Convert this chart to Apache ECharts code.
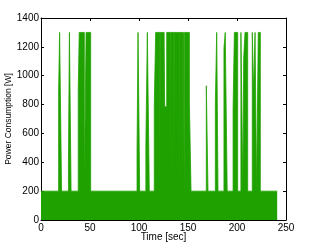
<!DOCTYPE html>
<html>
<head>
<meta charset="utf-8">
<script src="https://cdn.jsdelivr.net/npm/echarts@6/dist/echarts.min.js"></script>
<style>html,body{margin:0;padding:0;background:#fff;}#c{width:316px;height:248px;}</style>
</head>
<body>
<div id="c"></div>
<script>
// Change points of the power signal (time [sec], power [W]); value holds until next time
var times = [0, 18, 19, 21, 28, 29, 30.7, 38, 39, 44.2, 46, 50.7,
  98, 99, 100.7, 107, 108.5, 110.5,
  115.6, 117, 121.3, 121.6, 125.1, 125.4, 126.2, 128.3, 131.9, 132.4, 135.6, 135.9, 140.9, 141.2, 144.8, 145.3, 146.1, 146.4, 151.4, 153.1,
  168.7, 170.4, 177.9, 179.3, 180.6, 186.7, 188, 190, 196, 197.3, 200.7, 204, 206, 206.8, 208.2, 210.9,
  215.6, 217, 218.4, 220, 221.7, 223.8, 241];
var power = [200, 900, 1300, 200, 400, 1300, 200, 900, 1300, 200, 1300, 200,
  470, 1300, 200, 520, 1300, 200,
  800, 1300, 200, 1300, 200, 1300, 785, 1300, 200, 1300, 200, 1300, 200, 1300, 200, 1300, 200, 1300, 820, 200,
  930, 200, 810, 1300, 200, 1190, 1300, 200, 770, 1300, 200, 1300, 200, 1120, 1300, 200,
  1300, 880, 1300, 200, 1300, 200, 200];
var xTicks = {min: 0, max: 250, interval: 50};
var yTicks = {min: 0, max: 1400, interval: 200};
var xLabel = 'Time [sec]';
var yLabel = 'Power Consumption [W]';

// stairs: each change point gives a vertical edge (previous level -> new level)
var data = [];
times.forEach(function (t, i) {
  if (i > 0) data.push([t, power[i - 1]]);
  data.push([t, power[i]]);
});
var green = '#1fa200';
var font = '"Liberation Sans", Arial, Helvetica, sans-serif';
var axisLine = {show: true, onZero: false, lineStyle: {color: '#000', width: 1}};
var tick = {show: true, inside: true, length: 3, lineStyle: {color: '#000', width: 1}};
var plain = function (v) { return String(v); };

var chart = echarts.init(document.getElementById('c'), null, {renderer: 'canvas'});
chart.setOption({
  animation: false,
  backgroundColor: '#fff',
  grid: {left: 41, right: 30, top: 18, bottom: 28, containLabel: false, outerBoundsMode: 'none'},
  xAxis: [{
    type: 'value', min: xTicks.min, max: xTicks.max, interval: xTicks.interval, position: 'bottom',
    axisLine: axisLine, axisTick: tick, splitLine: {show: false},
    axisLabel: {color: '#000', fontSize: 10, fontFamily: font, margin: 3, formatter: plain},
    name: xLabel, nameLocation: 'middle', nameGap: 12, nameMoveOverlap: false,
    nameTextStyle: {color: '#000', fontSize: 10, fontFamily: font}
  }, {
    type: 'value', min: xTicks.min, max: xTicks.max, interval: xTicks.interval, position: 'top',
    axisLine: axisLine, axisTick: tick, splitLine: {show: false}, axisLabel: {show: false}
  }],
  yAxis: [{
    type: 'value', min: yTicks.min, max: yTicks.max, interval: yTicks.interval, position: 'left',
    axisLine: axisLine, axisTick: tick, splitLine: {show: false},
    axisLabel: {color: '#000', fontSize: 10, fontFamily: font, margin: 2, formatter: plain},
    name: yLabel, nameLocation: 'middle', nameGap: 28, nameMoveOverlap: false,
    nameTextStyle: {color: '#000', fontSize: 8.5, fontFamily: font}
  }, {
    type: 'value', min: yTicks.min, max: yTicks.max, interval: yTicks.interval, position: 'right',
    axisLine: axisLine, axisTick: tick, splitLine: {show: false}, axisLabel: {show: false}
  }],
  series: [{
    type: 'line', xAxisIndex: 0, yAxisIndex: 0, data: data,
    symbol: 'none', z: 2,
    lineStyle: {color: green, width: 0.8},
    areaStyle: {color: green, opacity: 1, origin: 'start'}
  }]
});
</script>
</body>
</html>
